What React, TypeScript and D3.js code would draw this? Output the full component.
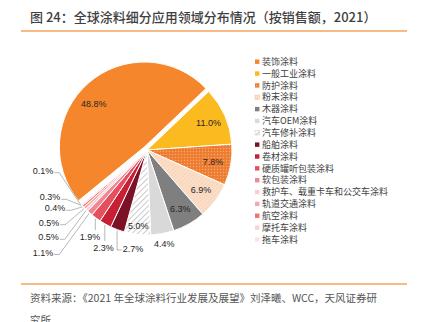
import React from "react";
import * as d3 from "d3";

const categories = [
  "装饰涂料",
  "一般工业涂料",
  "防护涂料",
  "粉末涂料",
  "木器涂料",
  "汽车OEM涂料",
  "汽车修补涂料",
  "船舶涂料",
  "卷材涂料",
  "硬质罐听包装涂料",
  "软包装涂料",
  "救护车、载重卡车和公交车涂料",
  "轨道交通涂料",
  "航空涂料",
  "摩托车涂料",
  "拖车涂料",
];
const values = [48.8, 11.0, 7.8, 6.9, 6.3, 4.4, 5.0, 2.7, 2.3, 1.9, 1.1, 0.5, 0.5, 0.4, 0.3, 0.1];

const fills = [
  "#F5862B",
  "#FBBA1F",
  "url(#pDots)",
  "url(#pPeach)",
  "#7F7F7F",
  "#D9D9D9",
  "url(#pHatch)",
  "#7C1226",
  "#C71F33",
  "#E5505E",
  "#EF8892",
  "#F9CDD2",
  "#F4A9B0",
  "#F27272",
  "#F8D3D8",
  "#FBE4E7",
];

// layout of the outside labels (offset from pie centre) for the small slices
const outsideLabelOffsets: Record<number, [number, number]> = {
  7: [-14, 99],
  8: [-43.5, 98],
  9: [-57, 87],
  10: [-104, 102.5],
  11: [-98.5, 87.3],
  12: [-98, 72.7],
  13: [-92, 58.3],
  14: [-97, 47.3],
  15: [-104, 20.7],
};

const W = 426;
const H = 322;
const cx = 147;
const cy = 150;
const R = 85;
const startDeg = -129.2;

export default function App() {
  const pie = d3
    .pie<number>()
    .sort(null)
    .value((d) => d)
    .startAngle((startDeg * Math.PI) / 180)
    .endAngle(((startDeg + 360) * Math.PI) / 180);
  const arcs = pie(values);
  const arcGen = d3.arc<d3.PieArcDatum<number>>().innerRadius(0).outerRadius(R);

  const fmt = (v: number) => v.toFixed(1) + "%";
  const font = "'Liberation Sans', Arial, sans-serif";
  const cjk = "'Noto Sans CJK SC', 'Noto Sans', sans-serif";

  const labelW = (s: string) => s.length * 5 - 2.5 + 3; // approx text width at 9px

  const labels: React.ReactNode[] = [];
  const leaders: React.ReactNode[] = [];
  arcs.forEach((a, i) => {
    let mid = (a.startAngle + a.endAngle) / 2;
    if (i === 0) mid -= (8 * Math.PI) / 180;
    const s = Math.sin(mid);
    const c = -Math.cos(mid);
    const text = fmt(values[i]);
    let lx: number, ly: number;
    if (outsideLabelOffsets[i]) {
      lx = cx + outsideLabelOffsets[i][0];
      ly = cy + outsideLabelOffsets[i][1];
      const ex = cx + s * (R + 1);
      const ey = cy + c * (R + 1);
      const w = labelW(text);
      let pts: [number, number][];
      if (Math.abs(ex - lx) < w / 2) {
        pts = [
          [ex, ey],
          [ex, ly - 7],
        ];
      } else if (ex < lx) {
        pts = [
          [ex, ey],
          [ex, ly + 1],
          [lx - w / 2 - 1, ly + 1],
        ];
      } else {
        pts = [
          [ex, ey],
          [lx + w / 2 + 6, ly + 2],
          [lx + w / 2 + 1, ly + 2],
        ];
      }
      leaders.push(
        <polyline
          key={"l" + i}
          points={pts.map((p) => p.join(",")).join(" ")}
          fill="none"
          stroke="#A6A6A6"
          strokeWidth={0.8}
        />
      );
    } else if (i === 5) {
      lx = cx + s * (R + 10);
      ly = cy + c * (R + 10);
    } else {
      const rf = i === 0 ? 0.78 : i === 6 ? 0.9 : 0.79;
      const off = i === 0 ? 4 : 0;
      lx = cx + s * (R * rf + off);
      ly = cy + c * (R * rf + off);
    }
    labels.push(
      <text
        key={"t" + i}
        x={lx}
        y={ly}
        textAnchor="middle"
        dy="0.35em"
        fontFamily={font}
        fontSize={9}
        fill="#262626"
      >
        {text}
      </text>
    );
  });

  const legendX = 255;
  const legendY0 = 61.7;
  const legendStep = 11.85;

  return (
    <svg
      width={W}
      height={H}
      style={{ position: "absolute", left: 0, top: 0, background: "#fff" }}
    >
      <defs>
        <pattern id="pDots" width={3} height={3} patternUnits="userSpaceOnUse">
          <rect width={3} height={3} fill="#EE7C2E" />
          <circle cx={1.5} cy={1.5} r={0.75} fill="#F6A870" />
        </pattern>
        <pattern
          id="pPeach"
          width={3}
          height={3}
          patternUnits="userSpaceOnUse"
          patternTransform="rotate(45)"
        >
          <rect width={3} height={3} fill="#FAD8BE" />
          <line x1={0} y1={0} x2={0} y2={3} stroke="#FCEBDD" strokeWidth={1} />
        </pattern>
        <pattern
          id="pHatch"
          width={4}
          height={4}
          patternUnits="userSpaceOnUse"
          patternTransform="rotate(45)"
        >
          <rect width={4} height={4} fill="#FFFFFF" />
          <line x1={0} y1={0} x2={0} y2={4} stroke="#BDBDBD" strokeWidth={1.6} />
        </pattern>
      </defs>

      <text x={30} y={22} fontFamily={cjk} fontSize={13} fill="#3F3F3F" fontWeight={500}>
        图 24：全球涂料细分应用领域分布情况（按销售额，2021）
      </text>
      <line x1={21} x2={407} y1={31} y2={31} stroke="#F2A35E" strokeWidth={1.5} />

      <g>
        {arcs.map((a, i) => {
          const mid = (a.startAngle + a.endAngle) / 2;
          const off = i === 0 ? 4 : 0;
          const tx = cx + Math.sin(mid) * off;
          const ty = cy - Math.cos(mid) * off;
          return (
            <path
              key={i}
              d={arcGen(a) || ""}
              transform={`translate(${tx},${ty})`}
              fill={fills[i]}
              stroke="#FFFFFF"
              strokeWidth={1}
              strokeLinejoin="round"
            />
          );
        })}
      </g>
      {leaders}
      {labels}

      <g>
        {categories.map((name, i) => {
          const y = legendY0 + i * legendStep;
          return (
            <g key={name}>
              <rect
                x={legendX}
                y={y - 2.2}
                width={4.4}
                height={4.4}
                fill={fills[i]}
                stroke={i === 3 ? "#F6C7A3" : i === 6 ? "#D0D0D0" : "none"}
                strokeWidth={0.6}
              />
              <text
                x={legendX + 7}
                y={y}
                dy="0.35em"
                fontFamily={cjk}
                fontSize={9}
                fill="#404040"
              >
                {name}
              </text>
            </g>
          );
        })}
      </g>

      <line x1={21} x2={407} y1={284} y2={284} stroke="#F2A35E" strokeWidth={1.5} />
      <text x={30} y={302} fontFamily={cjk} fontSize={10.5} fill="#555555">
        资料来源：《2021 年全球涂料行业发展及展望》刘泽曦、WCC，天风证券研
      </text>
      <text x={30} y={324} fontFamily={cjk} fontSize={10.5} fill="#555555">
        究所
      </text>
    </svg>
  );
}
